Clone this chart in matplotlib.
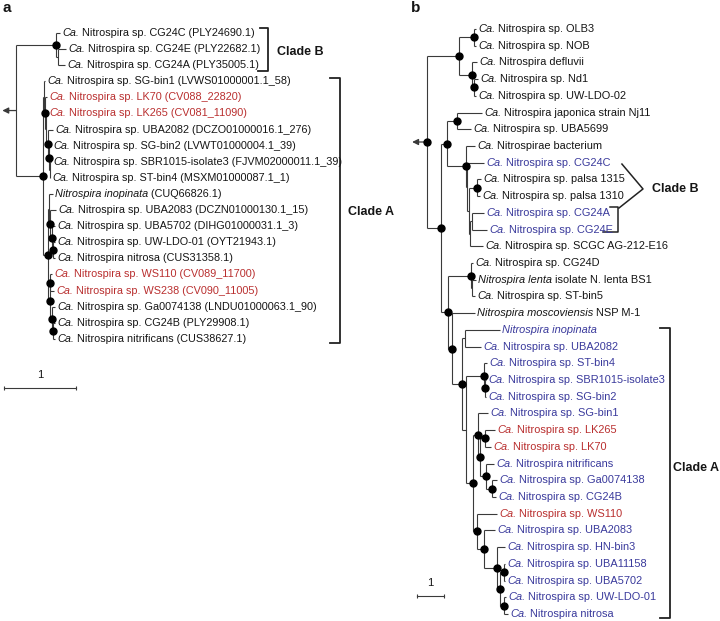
import matplotlib
matplotlib.use("Agg")
import matplotlib.pyplot as plt

plt.rcParams['font.family'] = 'Liberation Sans'

LINE = '#3a3a3a'
TXT = '#151515'
RED = '#b92f2f'
BLUE = '#3a3a9c'

# ---- panel a : leaf labels (italic part, plain part, colour) ----
ital_a = ['Ca.'] * 10 + ['Nitrospira inopinata'] + ['Ca.'] * 9
rest_a = [' Nitrospira sp. CG24C (PLY24690.1)',
          ' Nitrospira sp. CG24E (PLY22682.1)',
          ' Nitrospira sp. CG24A (PLY35005.1)',
          ' Nitrospira sp. SG-bin1 (LVWS01000001.1_58)',
          ' Nitrospira sp. LK70 (CV088_22820)',
          ' Nitrospira sp. LK265 (CV081_11090)',
          ' Nitrospira sp. UBA2082 (DCZO01000016.1_276)',
          ' Nitrospira sp. SG-bin2 (LVWT01000004.1_39)',
          ' Nitrospira sp. SBR1015-isolate3 (FJVM02000011.1_39)',
          ' Nitrospira sp. ST-bin4 (MSXM01000087.1_1)',
          ' (CUQ66826.1)',
          ' Nitrospira sp. UBA2083 (DCZN01000130.1_15)',
          ' Nitrospira sp. UBA5702 (DIHG01000031.1_3)',
          ' Nitrospira sp. UW-LDO-01 (OYT21943.1)',
          ' Nitrospira nitrosa (CUS31358.1)',
          ' Nitrospira sp. WS110 (CV089_11700)',
          ' Nitrospira sp. WS238 (CV090_11005)',
          ' Nitrospira sp. Ga0074138 (LNDU01000063.1_90)',
          ' Nitrospira sp. CG24B (PLY29908.1)',
          ' Nitrospira nitrificans (CUS38627.1)']
col_a = ['k', 'k', 'k', 'k', 'r', 'r', 'k', 'k', 'k', 'k',
         'k', 'k', 'k', 'k', 'k', 'r', 'r', 'k', 'k', 'k']

# newick, leaf names = label index, '*' = node with support dot
tree_a = ("((0:0.056,(1:0.111,2:0.097):0.028)*:0.556,"
          "((3:0.014,(4:0.028,(5:0.021,(6:0.069,(7:0.028,(8:0.021,9:0.007):0.007)*:0.014)*:0.035):0.007)*:0.014):0.014,"
          "((10:0.056,(11:0.083,(12:0.042,(13:0.028,14:0.028)*:0.014)*:0.028)*:0.014):0.014,"
          "((15:0.021,16:0.049)*:0.007,(17:0.042,(18:0.028,19:0.028)*:0.014)*:0.028)*:0.028)*:0.069)*:0.375);")

# ---- panel b ----
ital_b = ['Ca.'] * 15 + ['Nitrospira lenta', 'Ca.', 'Nitrospira moscoviensis',
                         'Nitrospira inopinata'] + ['Ca.'] * 17
rest_b = [' Nitrospira sp. OLB3', ' Nitrospira sp. NOB', ' Nitrospira defluvii',
          ' Nitrospira sp. Nd1', ' Nitrospira sp. UW-LDO-02',
          ' Nitrospira japonica strain Nj11', ' Nitrospira sp. UBA5699',
          ' Nitrospirae bacterium', ' Nitrospira sp. CG24C',
          ' Nitrospira sp. palsa 1315', ' Nitrospira sp. palsa 1310',
          ' Nitrospira sp. CG24A', ' Nitrospira sp. CG24E',
          ' Nitrospira sp. SCGC AG-212-E16', ' Nitrospira sp. CG24D',
          ' isolate N. lenta BS1', ' Nitrospira sp. ST-bin5', ' NSP M-1', '',
          ' Nitrospira sp. UBA2082', ' Nitrospira sp. ST-bin4',
          ' Nitrospira sp. SBR1015-isolate3', ' Nitrospira sp. SG-bin2',
          ' Nitrospira sp. SG-bin1', ' Nitrospira sp. LK265', ' Nitrospira sp. LK70',
          ' Nitrospira nitrificans', ' Nitrospira sp. Ga0074138',
          ' Nitrospira sp. CG24B', ' Nitrospira sp. WS110', ' Nitrospira sp. UBA2083',
          ' Nitrospira sp. HN-bin3', ' Nitrospira sp. UBA11158',
          ' Nitrospira sp. UBA5702', ' Nitrospira sp. UW-LDO-01',
          ' Nitrospira nitrosa']
col_b = ['k'] * 8 + ['b', 'k', 'k', 'b', 'b'] + ['k'] * 5 + ['b'] * 6 + \
        ['r', 'r', 'b', 'b', 'b', 'r'] + ['b'] * 6

up_b = "((0:0.074,1:0.074)*:0.556,(2:0.185,(3:0.148,4:0.074)*:0.074)*:0.481)*:1.185"
n143_b = ("((5:0.926,6:0.519)*:0.370,(7:0.333,(8:0.630,((9:0.148,10:0.111)*:0.315,"
          "((11:0.444,12:0.556):0.074,13:0.481):0.056):0.056):0.037)*:0.704)*:0.222")
lenta_b = "(14:0.074,(15:0.148,16:0.111):0.037)*:0.852"
ino_b = "(18:1.296,19:0.593):0.111"
st4_b = "(20:0.111,(21:0.037,22:0.037)*:0.037)*:0.667"
lk_b = "(23:0.370,((24:0.370,25:0.222)*:0.185,(26:0.296,(27:0.185,28:0.148)*:0.222)*:0.222)*:0.074)*:0.185"
ws_b = ("(29:0.741,(30:0.407,(31:0.296,((32:0.037,33:0.037)*:0.148,"
        "(34:0.074,35:0.148)*:0.148)*:0.111)*:0.481)*:0.259)*:0.148")
cladeA_b = "(" + ino_b + ",(" + st4_b + ",(" + lk_b + "," + ws_b + ")*:0.259):0.148)*:0.370"
tree_b = ("(" + up_b + ",(" + n143_b + ",(" + lenta_b + ",(17:0.852," + cladeA_b +
          ")*:0.148)*:0.259)*:0.519)*;")


def parse(s):
    pos = 0

    def node():
        nonlocal pos
        n = {'children': [], 'name': '', 'len': 0.0}
        if s[pos] == '(':
            pos += 1
            n['children'].append(node())
            while s[pos] == ',':
                pos += 1
                n['children'].append(node())
            pos += 1
        st = pos
        while s[pos] not in ':,();':
            pos += 1
        n['name'] = s[st:pos]
        if s[pos] == ':':
            pos += 1
            st = pos
            while s[pos] not in ',();':
                pos += 1
            n['len'] = float(s[st:pos])
        return n
    return node()


def layout(n, x0):
    n['x'] = x0 + n['len']
    if n['children']:
        for c in n['children']:
            layout(c, n['x'])
        n['y'] = (n['children'][0]['y'] + n['children'][-1]['y']) / 2
    else:
        n['y'] = int(n['name'])


def draw(ax, n, ital, rest, cols, fs):
    if n['children']:
        ax.plot([n['x'], n['x']], [n['children'][0]['y'], n['children'][-1]['y']],
                color=LINE, lw=0.8, solid_capstyle='butt')
        for c in n['children']:
            ax.plot([n['x'], c['x']], [c['y'], c['y']], color=LINE, lw=0.8,
                    solid_capstyle='butt')
            draw(ax, c, ital, rest, cols, fs)
        if n['name'] == '*':
            ax.plot(n['x'], n['y'], 'o', color='k', ms=5, zorder=5)
    else:
        i = int(n['name'])
        c = {'k': TXT, 'r': RED, 'b': BLUE}[cols[i]]
        t = ax.annotate(ital[i], (n['x'], n['y']), xytext=(1.6, 0),
                        textcoords='offset points', va='center', ha='left',
                        fontsize=fs, color=c, style='italic')
        if rest[i]:
            ax.annotate(rest[i], xy=(1, 0), xycoords=t, va='bottom', ha='left',
                        fontsize=fs, color=c)


fig = plt.figure(figsize=(7.2, 6.21), dpi=100)

# panel a: 72 px per unit, root at x=16px, leaves from y=33px every 16.1px
ax_a = fig.add_axes([0, 0, 0.5, 1])
ax_a.set_xlim(-16 / 72, 344 / 72)
ax_a.set_ylim((621 - 33) / 16.1, -33 / 16.1)
ax_a.axis('off')
ta = parse(tree_a)
layout(ta, 0.0)
draw(ax_a, ta, ital_a, rest_a, col_a, 7.8)
ax_a.annotate('', xy=(-0.19, ta['y']), xytext=(0, ta['y']),
              arrowprops=dict(arrowstyle='-|>', color=LINE, lw=0.9, mutation_scale=9,
                              shrinkA=0, shrinkB=0))
# clade brackets
ax_a.plot([3.39, 3.5, 3.5, 3.36], [-0.31, -0.31, 2.36, 2.36], color='#222222', lw=1.3)
ax_a.plot([4.36, 4.5, 4.5, 4.36], [2.8, 2.8, 19.25, 19.25], color='#222222', lw=1.3)
ax_a.text(3.625, 1.15, 'Clade B', fontsize=9, fontweight='bold', va='center', color=TXT)
ax_a.text(4.61, 11.1, 'Clade A', fontsize=9, fontweight='bold', va='center', color=TXT)
# scale bar
ax_a.plot([-0.167, 0.833], [22.05, 22.05], color=LINE, lw=0.8)
ax_a.plot([-0.167, 0.833], [22.05, 22.05], '|', color=LINE, ms=3, mew=0.8)
ax_a.text(0.333, 21.25, '1', fontsize=8, ha='center', va='center', color=TXT)

# panel b: 27 px per unit, root at x=427px, leaves from y=29px every 16.714px
ax_b = fig.add_axes([0.5, 0, 0.5, 1])
ax_b.set_xlim(-67 / 27, 293 / 27)
ax_b.set_ylim((621 - 29) / 16.714, -29 / 16.714)
ax_b.axis('off')
tb = parse(tree_b)
layout(tb, 0.0)
draw(ax_b, tb, ital_b, rest_b, col_b, 7.9)
ax_b.annotate('', xy=(-0.55, tb['y']), xytext=(0, tb['y']),
              arrowprops=dict(arrowstyle='-|>', color=LINE, lw=0.9, mutation_scale=9,
                              shrinkA=0, shrinkB=0))
ax_b.plot([8.63, 9.0, 9.0, 8.63], [17.89, 17.89, 35.24, 35.24], color='#222222', lw=1.3)
ax_b.text(9.1, 26.27, 'Clade A', fontsize=9, fontweight='bold', va='center', color=TXT)
ax_b.plot([7.22, 8.0, 7.11], [8.08, 9.57, 10.71], color='#222222', lw=1.1)
ax_b.plot([6.78, 7.07, 7.07, 6.52], [10.65, 10.65, 12.15, 12.15], color='#222222', lw=1.1)
ax_b.text(8.33, 9.57, 'Clade B', fontsize=9, fontweight='bold', va='center', color=TXT)
ax_b.plot([-0.37, 0.63], [33.92, 33.92], color=LINE, lw=0.8)
ax_b.plot([-0.37, 0.63], [33.92, 33.92], '|', color=LINE, ms=3, mew=0.8)
ax_b.text(0.13, 33.15, '1', fontsize=8, ha='center', va='center', color=TXT)

fig.text(0.004, 0.998, 'a', fontsize=11, fontweight='bold', va='top', ha='left', color=TXT)
fig.text(0.571, 0.998, 'b', fontsize=11, fontweight='bold', va='top', ha='left', color=TXT)

fig.savefig('out.png', dpi=100)
